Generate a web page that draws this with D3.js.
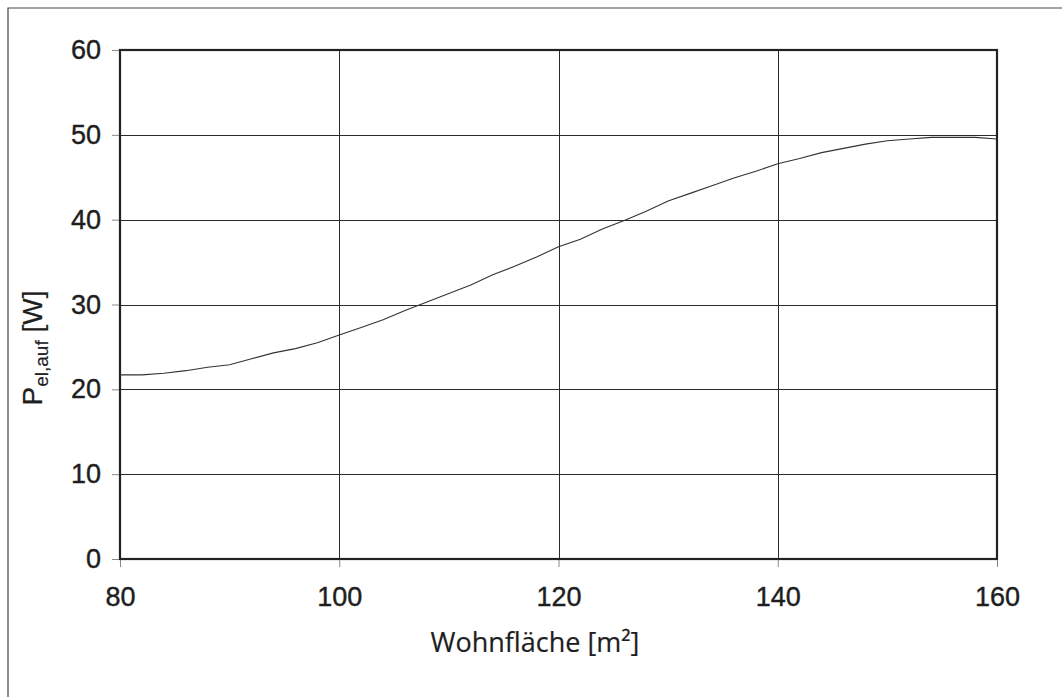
<!DOCTYPE html>
<html>
<head>
<meta charset="utf-8">
<script src="https://cdn.jsdelivr.net/npm/d3@7"></script>
<style>
  html, body { margin: 0; padding: 0; background: #fff; }
  svg { display: block; }
</style>
</head>
<body>
<svg id="chart" width="1062" height="697"></svg>
<script>
// ---- data ----
const wohnflaeche = [80, 82, 84, 86, 88, 90, 92, 94, 96, 98, 100, 102, 104, 106, 108, 110, 112, 114, 116, 118, 120,
                     122, 124, 126, 128, 130, 132, 134, 136, 138, 140, 142, 144, 146, 148, 150, 152, 154, 156, 158, 160];
const leistung = [21.7, 21.7, 21.9, 22.2, 22.6, 22.9, 23.6, 24.3, 24.8, 25.5, 26.4, 27.3, 28.2, 29.3, 30.3, 31.3, 32.3, 33.5, 34.5, 35.6, 36.8,
                  37.7, 38.9, 39.9, 41.0, 42.2, 43.1, 44.0, 44.9, 45.7, 46.6, 47.2, 47.9, 48.4, 48.9, 49.3, 49.5, 49.7, 49.7, 49.7, 49.5];
const xTicks = [80, 100, 120, 140, 160];
const yTicks = [0, 10, 20, 30, 40, 50, 60];
const xTitle = "Wohnfläche [m²]";

// ---- layout ----
const svg = d3.select("#chart");
const L = 120, R = 997, T = 50, B = 559;

const x = d3.scaleLinear().domain([80, 160]).range([L, R]);
const y = d3.scaleLinear().domain([0, 60]).range([B, T]);

// outer frame (top and left visible)
svg.append("path")
  .attr("d", `M8,697 V8 H1062`)
  .attr("fill", "none").attr("stroke", "#444").attr("stroke-width", 1.2);

// gridlines
svg.append("g").selectAll("line.h").data(yTicks.slice(1, -1)).join("line")
  .attr("x1", L).attr("x2", R)
  .attr("y1", d => Math.round(y(d)) + 0.5).attr("y2", d => Math.round(y(d)) + 0.5)
  .attr("stroke", "#2a2a2a").attr("stroke-width", 1);
svg.append("g").selectAll("line.v").data(xTicks.slice(1, -1)).join("line")
  .attr("y1", T).attr("y2", B)
  .attr("x1", d => Math.round(x(d)) + 0.5).attr("x2", d => Math.round(x(d)) + 0.5)
  .attr("stroke", "#2a2a2a").attr("stroke-width", 1);

// axes
const yAxis = d3.axisLeft(y).tickValues(yTicks).tickSize(8).tickPadding(11).tickSizeOuter(0);
const gy = svg.append("g").attr("transform", `translate(${L},0)`).call(yAxis);
gy.select(".domain").remove();
gy.selectAll("line").attr("stroke", "#888");
gy.selectAll("text").attr("font-family", "'Liberation Sans', Arial, sans-serif")
  .attr("font-size", 27).attr("fill", "#1e1e1e")
  .attr("stroke", "#1e1e1e").attr("stroke-width", 0.4);

const xAxis = d3.axisBottom(x).tickValues(xTicks).tickSize(8).tickPadding(20).tickSizeOuter(0);
const gx = svg.append("g").attr("transform", `translate(0,${B})`).call(xAxis);
gx.select(".domain").remove();
gx.selectAll("line").attr("stroke", "#888");
gx.selectAll("text").attr("font-family", "'Liberation Sans', Arial, sans-serif")
  .attr("font-size", 27).attr("fill", "#1e1e1e")
  .attr("stroke", "#1e1e1e").attr("stroke-width", 0.4);

// plot frame
svg.append("rect")
  .attr("x", L).attr("y", T).attr("width", R - L).attr("height", B - T)
  .attr("fill", "none").attr("stroke", "#222").attr("stroke-width", 2.2);

// data line
const line = d3.line().x((d, i) => x(wohnflaeche[i])).y(d => y(d));
svg.append("path").datum(leistung)
  .attr("d", line)
  .attr("fill", "none").attr("stroke", "#333").attr("stroke-width", 1.1);

// x title
svg.append("text")
  .attr("x", 535).attr("y", 652)
  .attr("text-anchor", "middle")
  .attr("font-family", "'Open Sans', 'Noto Sans', sans-serif")
  .attr("font-size", 27).attr("fill", "#1e1e1e")
  .attr("stroke", "#1e1e1e").attr("stroke-width", 0.2)
  .text(xTitle);

// y title
const yt = svg.append("text")
  .attr("transform", "translate(42,348) rotate(-90)")
  .attr("text-anchor", "middle")
  .attr("font-family", "'Liberation Sans', Arial, sans-serif")
  .attr("font-size", 28).attr("fill", "#1e1e1e")
  .attr("stroke", "#1e1e1e").attr("stroke-width", 0.2);
yt.append("tspan").text("P");
yt.append("tspan").attr("font-size", 19).attr("dy", 6).text("el,auf");
yt.append("tspan").attr("dy", -6).text(" [W]");
</script>
</body>
</html>
